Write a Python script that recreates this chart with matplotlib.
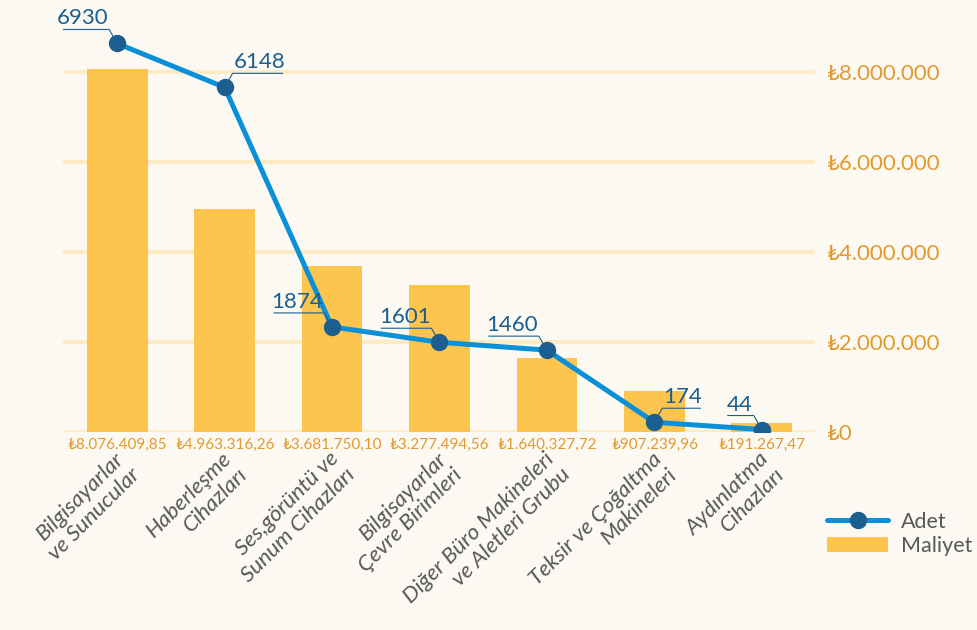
import matplotlib
matplotlib.use("Agg")
import matplotlib.pyplot as plt
from matplotlib.lines import Line2D
from matplotlib.patches import Patch
import matplotlib.transforms as mtransforms
import numpy as np

plt.rcParams['font.family'] = ['Lato', 'DejaVu Sans']

categories = ["Bilgisayarlar\nve Sunucular", "Haberleşme\nCihazları", "Ses,görüntü ve\nSunum Cihazları",
              "Bilgisayarlar\nÇevre Birimleri", "Diğer Büro Makineleri\nve Aletleri Grubu",
              "Teksir ve Çoğaltma\nMakineleri", "Aydınlatma\nCihazları"]
maliyet = [8076409.85, 4963316.26, 3681750.10, 3277494.56, 1640327.72, 907239.96, 191267.47]
adet = [6930, 6148, 1874, 1601, 1460, 174, 44]
label_side = ["left", "right", "left", "left", "left", "right", "left"]
yticks = [0, 2000000, 4000000, 6000000, 8000000]

BG = "#FCF9F2"
BAR = "#FDC54E"
LINE = "#0A90D8"
MARK = "#1A5F8F"
ORANGE = "#E39A2D"
GRID = "#FDEBC4"
GREY = "#57585A"

def tr_fmt(v, dec=True):
    if dec:
        s = f"{v:,.2f}"
        s = s.replace(",", "X").replace(".", ",").replace("X", ".")
    else:
        s = f"{v:,.0f}".replace(",", ".")
    return "₺" + s

fig = plt.figure(figsize=(9.78, 6.3), dpi=100, facecolor=BG)
ax = fig.add_axes([0.0649, 0.3143, 0.7689, 0.654])
ax.set_facecolor(BG)
ax2 = ax.twinx()
x = np.arange(len(categories))

ymax = 9.156e6
ratio = 1245.8
ax.set_ylim(0, ymax)
ax.set_xlim(-0.5, 6.5)
for t in yticks:
    ax.axhline(t, color=GRID, lw=3, zorder=0)
ax.bar(x, maliyet, width=0.565, color=BAR, zorder=2)

ax.yaxis.tick_right()
ax.set_yticks(yticks)
ax.set_yticklabels([tr_fmt(t, False) for t in yticks], color=ORANGE, fontsize=16)
ax.tick_params(axis='y', length=0, pad=8, labelleft=False, labelright=True)
ax.set_xticks(x)
ax.set_xticklabels(categories, rotation=45, ha='right', va='top', rotation_mode='anchor',
                   multialignment='right', fontsize=16.2, style='italic', color=GREY,
                   linespacing=1.15)
ax.tick_params(axis='x', length=0, pad=12)
for lab in ax.get_xticklabels():
    lab.set_transform(lab.get_transform() + mtransforms.ScaledTranslation(-3/100, 0, fig.dpi_scale_trans))
for s in ax.spines.values():
    s.set_visible(False)

# bar value labels
for i, v in enumerate(maliyet):
    ax.text(i, 0, tr_fmt(v), ha='center', va='center', color=ORANGE, fontsize=11,
            transform=ax.transData + mtransforms.ScaledTranslation(0, -13/100, fig.dpi_scale_trans))

ax2.set_ylim(0, ymax / ratio)
ax2.set_xlim(-0.5, 6.5)
ax2.axis('off')
ax2.plot(x, adet, color=LINE, lw=3.6, zorder=3, solid_capstyle='round')
ax2.plot(x, adet, 'o', color=MARK, markersize=11.5, zorder=4)

for i, (v, side) in enumerate(zip(adet, label_side)):
    sgn = -1 if side == "left" else 1
    dx, dy = sgn * 8, 14
    w = 12 * len(str(v)) + 2
    pts = [(0, 0), (dx, dy), (dx + sgn * w, dy)]
    disp = ax2.transData.transform((i, v))
    line_pts = np.array([[disp[0] + px, disp[1] + py] for px, py in pts])
    inv = ax2.transData.inverted().transform(line_pts)
    ax2.plot(inv[:, 0], inv[:, 1], color=MARK, lw=0.8, zorder=3.5)
    tx, ty = ax2.transData.inverted().transform((disp[0] + dx + sgn * 1, disp[1] + dy + 1))
    ax2.text(tx, ty, str(v), ha='right' if side == 'left' else 'left', va='bottom',
             color=MARK, fontsize=16)

handles = [Line2D([0], [0], color=LINE, lw=3.6, marker='o', markersize=11.5,
                  markerfacecolor=MARK, markeredgecolor=MARK, solid_capstyle='round'),
           Patch(facecolor=BAR, edgecolor='none')]
leg = fig.legend(handles, ["Adet", "Maliyet"], loc='upper left', bbox_to_anchor=(0.846, 0.188),
                 frameon=False, fontsize=15.5, handlelength=2.8, handleheight=0.7,
                 labelspacing=0.2, handletextpad=0.6, borderpad=0, borderaxespad=0)
for t in leg.get_texts():
    t.set_color(GREY)

fig.savefig("out.png", dpi=100, facecolor=BG)
